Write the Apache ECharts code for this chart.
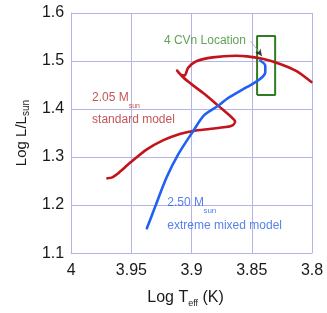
<!DOCTYPE html>
<html>
<head>
<meta charset="utf-8">
<script src="https://cdn.jsdelivr.net/npm/echarts@6/dist/echarts.min.js"></script>
<style>
html,body{margin:0;padding:0;background:#fff;}
#c{width:327px;height:313px;}
</style>
</head>
<body>
<div id="c"></div>
<script>
// ---- data ----
const xTicks = [4, 3.95, 3.9, 3.85, 3.8];
const yTicks = [1.1, 1.2, 1.3, 1.4, 1.5, 1.6];

// 2.05 Msun standard model track (log Teff, log L)
const redX = [3.9699,3.9658,3.9617,3.9508,3.9371,3.9234,3.9098,3.8988,3.8852,3.8716,3.8656,3.8639,3.8675,3.8770,3.8880,3.8988,3.9066,3.9120,3.9093,3.9057,3.9029,3.8961,3.8825,3.8634,3.8538,3.8402,3.8265,3.8128,3.8005];
const redY = [1.2557,1.2578,1.2645,1.2886,1.3159,1.3352,1.3481,1.3543,1.3584,1.3625,1.3666,1.3742,1.3844,1.4050,1.4288,1.4493,1.4651,1.4801,1.4719,1.4698,1.4856,1.4994,1.5076,1.5109,1.5097,1.5041,1.4939,1.4789,1.4563];

// 2.50 Msun extreme mixed model track
const blueX = [3.9371,3.9303,3.9207,3.9111,3.8988,3.8893,3.8770,3.8702,3.8538,3.8429,3.8388,3.8388,3.8429];
const blueY = [1.1516,1.1962,1.2578,1.3056,1.3536,1.3877,1.4083,1.4220,1.4460,1.4631,1.4768,1.4904,1.5006];

// 4 CVn location box
const boxX = [3.8456,3.8306,3.8306,3.8456,3.8456];
const boxY = [1.429,1.429,1.552,1.552,1.429];

// pointer from label to star
const pointerX = [3.851, 3.8415];
const pointerY = [1.5417, 1.5101];

// annotation texts and anchor values
const annoText = ['4 CVn Location', '2.05 M', 'sun', 'standard model', '2.50 M', 'sun', 'extreme mixed model'];
const annoX = [3.9234, 3.983, 3.9526, 3.983, 3.9206, 3.8906, 3.9206];
const annoY = [1.543, 1.424, 1.4057, 1.378, 1.2054, 1.188, 1.1563];

// ---- styles ----
const RED = '#c3141c', BLUE = '#2160f2', GREEN = '#2f7d20';
const annoColor = ['#3b8a2c', '#b8282c', '#b8282c', '#b8282c', '#2d62e6', '#2d62e6', '#2d62e6'];
const annoSize = [12, 12, 7, 12, 12, 8, 12];
const FONT = '"Liberation Sans", Arial, Helvetica, sans-serif';
const GRIDC = '#b4b4ec';

const zip = (xs, ys) => xs.map((x, i) => [x, ys[i]]);
const fmt = v => String(parseFloat(Number(v).toFixed(2)));

const annoData = annoText.map((t, i) => ({
  value: [annoX[i], annoY[i]],
  label: {
    show: true, position: 'right', distance: 0,
    formatter: t, color: annoColor[i], fontSize: annoSize[i], fontFamily: FONT
  }
}));

const chart = echarts.init(document.getElementById('c'), null, {renderer: 'canvas'});
chart.setOption({
  animation: false,
  backgroundColor: '#fff',
  grid: {left: 68, right: 15, top: 13, bottom: 56, containLabel: false},
  xAxis: {
    type: 'value', inverse: true, min: 3.8, max: 4, interval: 0.05,
    name: '{a|Log T}{b|eff}{a| (K)}',
    nameLocation: 'middle', nameGap: 24,
    nameTextStyle: {
      padding: [0, 12, 0, 0],
      rich: {
        a: {fontSize: 16, fontFamily: FONT, color: '#1a1a1a', lineHeight: 18, verticalAlign: 'top'},
        b: {fontSize: 9, fontFamily: FONT, color: '#1a1a1a', lineHeight: 10, padding: [16, 0, 0, 0], verticalAlign: 'bottom'}
      }
    },
    axisLine: {show: true, lineStyle: {color: GRIDC, width: 1}},
    axisTick: {show: false},
    axisLabel: {fontSize: 16, fontFamily: FONT, color: '#1a1a1a', margin: 9, formatter: fmt,
      customValues: xTicks, showMinLabel: true, showMaxLabel: true},
    splitLine: {show: true, lineStyle: {color: GRIDC, width: 1}}
  },
  yAxis: {
    type: 'value', min: 1.1, max: 1.6, interval: 0.1,
    name: '{a|Log L/L}{b|sun}',
    nameLocation: 'middle', nameGap: 35, nameRotate: 90,
    nameTextStyle: {
      rich: {
        a: {fontSize: 15, fontFamily: FONT, color: '#1a1a1a', lineHeight: 17, verticalAlign: 'top'},
        b: {fontSize: 10, fontFamily: FONT, color: '#1a1a1a', lineHeight: 11, padding: [13, 0, 0, 0], verticalAlign: 'bottom'}
      }
    },
    axisLine: {show: true, lineStyle: {color: GRIDC, width: 1}},
    axisTick: {show: false},
    axisLabel: {fontSize: 16, fontFamily: FONT, color: '#1a1a1a', margin: 7, formatter: fmt,
      customValues: yTicks},
    splitLine: {show: true, lineStyle: {color: GRIDC, width: 1}}
  },
  series: [
    {type: 'line', data: zip(boxX, boxY), symbol: 'none', silent: true,
      lineStyle: {color: GREEN, width: 2}, z: 2},
    {type: 'line', data: zip(pointerX, pointerY), symbol: 'none', silent: true,
      lineStyle: {color: '#a8a8a8', width: 0.8}, z: 2},
    {type: 'line', data: zip(redX, redY), symbol: 'none', smooth: 0.25, silent: true,
      lineStyle: {color: RED, width: 2.6, cap: 'round', join: 'round'}, z: 3},
    {type: 'line', data: zip(blueX, blueY), symbol: 'none', smooth: 0.3, silent: true,
      lineStyle: {color: BLUE, width: 2.6, cap: 'round', join: 'round'}, z: 4},
    {type: 'scatter', data: [[pointerX[1], pointerY[1]]], symbol: 'arrow', symbolSize: [5, 7],
      symbolRotate: 217, itemStyle: {color: '#111'}, silent: true, z: 5},
    {type: 'scatter', data: annoData, symbolSize: 1, itemStyle: {color: 'rgba(0,0,0,0)'}, silent: true, z: 6}
  ]
});
</script>
</body>
</html>
